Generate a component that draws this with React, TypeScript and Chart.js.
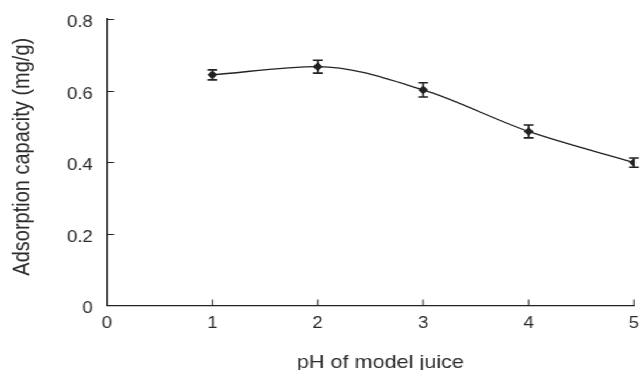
import React, { useEffect, useRef } from "react";
import { Chart, registerables } from "chart.js";

Chart.register(...registerables);

const phValues = [1, 2, 3, 4, 5];
const capacity = [0.644, 0.667, 0.602, 0.486, 0.399];
const errors = [0.014, 0.018, 0.02, 0.018, 0.013];
const xTicks = [0, 1, 2, 3, 4, 5];
const yTicks = [0, 0.2, 0.4, 0.6, 0.8];
const xTitle = "pH of model juice";
const yTitle = "Adsorption capacity (mg/g)";

const FONT = "'Liberation Sans', Arial, Helvetica, sans-serif";
const INK = "#222";
const TEXT = "#2b2b2b";

// the reference is drawn slightly wide; render at a narrower logical width and stretch
const LOGICAL_W = 550;
const OUT_W = 643;
const H = 370;
const SX = OUT_W / LOGICAL_W;

const decorPlugin = {
  id: "decor",
  afterDatasetsDraw(chart: any) {
    const ctx = chart.ctx;
    const xs = chart.scales.x;
    const ys = chart.scales.y;
    const area = chart.chartArea;
    ctx.save();
    ctx.strokeStyle = INK;
    ctx.lineWidth = 1;
    // inward ticks
    ctx.beginPath();
    xTicks.forEach((t) => {
      if (t === 0) return;
      const px = xs.getPixelForValue(t);
      ctx.moveTo(px, area.bottom);
      ctx.lineTo(px, area.bottom - 6);
    });
    yTicks.forEach((t) => {
      if (t === 0) return;
      const py = Math.round(ys.getPixelForValue(t)) + 0.5;
      ctx.moveTo(area.left, py);
      ctx.lineTo(area.left + 6, py);
    });
    ctx.stroke();
    // error bars
    ctx.lineWidth = 1.6;
    ctx.beginPath();
    phValues.forEach((x, i) => {
      const px = xs.getPixelForValue(x);
      const top = ys.getPixelForValue(capacity[i] + errors[i]);
      const bot = ys.getPixelForValue(capacity[i] - errors[i]);
      ctx.moveTo(px, top);
      ctx.lineTo(px, bot);
      ctx.moveTo(px - 4.2, top);
      ctx.lineTo(px + 4.2, top);
      ctx.moveTo(px - 4.2, bot);
      ctx.lineTo(px + 4.2, bot);
    });
    ctx.stroke();
    // axis titles
    ctx.fillStyle = TEXT;
    ctx.textAlign = "center";
    ctx.textBaseline = "middle";
    ctx.font = `18.5px ${FONT}`;
    ctx.fillText(xTitle, (area.left + area.right) / 2 + 8.5, 362.5);
    ctx.translate(19.2, (area.top + area.bottom) / 2 - 5.5);
    ctx.rotate(-Math.PI / 2);
    ctx.font = `20px ${FONT}`;
    ctx.fillText(yTitle, 0, 0);
    ctx.restore();
  },
};

export default function App() {
  const ref = useRef<HTMLCanvasElement | null>(null);
  useEffect(() => {
    if (!ref.current) return;
    const chart = new Chart(ref.current, {
      type: "line",
      data: {
        datasets: [
          {
            data: phValues.map((x, i) => ({ x, y: capacity[i] })),
            borderColor: INK,
            borderWidth: 1.3,
            backgroundColor: INK,
            pointStyle: "rectRot",
            pointRadius: 4.3,
            pointBorderWidth: 0,
            cubicInterpolationMode: "monotone",
            tension: 0.4,
            fill: false,
          },
        ],
      },
      options: {
        responsive: false,
        animation: false,
        devicePixelRatio: 1,
        layout: { padding: { top: 19, right: 7.7, left: 0, bottom: 0 } },
        plugins: { legend: { display: false }, tooltip: { enabled: false } },
        scales: {
          x: {
            type: "linear",
            min: 0,
            max: 5,
            afterBuildTicks: (s: any) => {
              s.ticks = xTicks.map((v) => ({ value: v }));
            },
            afterFit: (s: any) => {
              s.height = 64.5;
              s.paddingLeft = 0;
              s.paddingRight = 0;
            },
            grid: { display: true, drawOnChartArea: false, drawTicks: false },
            border: { display: true, color: INK, width: 1.2 },
            ticks: {
              padding: 8,
              color: TEXT,
              font: { family: FONT, size: 16 },
              maxRotation: 0,
              callback: (v: any) => String(v),
            },
            title: { display: false },
          },
          y: {
            min: 0,
            max: 0.8,
            afterBuildTicks: (s: any) => {
              s.ticks = yTicks.map((v) => ({ value: v }));
            },
            afterFit: (s: any) => {
              s.width = 91.5;
              s.paddingTop = 0;
              s.paddingBottom = 0;
            },
            grid: { display: true, drawOnChartArea: false, drawTicks: false },
            border: { display: true, color: INK, width: 1.2 },
            ticks: {
              padding: 12,
              labelOffset: 3.5,
              color: TEXT,
              font: { family: FONT, size: 16 },
              callback: (v: any) => (v === 0 ? "0" : Number(v).toFixed(1)),
            },
            title: { display: false },
          },
        },
      },
      plugins: [decorPlugin],
    });
    return () => chart.destroy();
  }, []);
  return (
    <div
      style={{
        position: "fixed",
        left: 0,
        top: 0,
        width: LOGICAL_W,
        height: H,
        background: "#fff",
        transform: `scaleX(${SX})`,
        transformOrigin: "0 0",
      }}
    >
      <canvas ref={ref} width={LOGICAL_W} height={H} />
    </div>
  );
}
